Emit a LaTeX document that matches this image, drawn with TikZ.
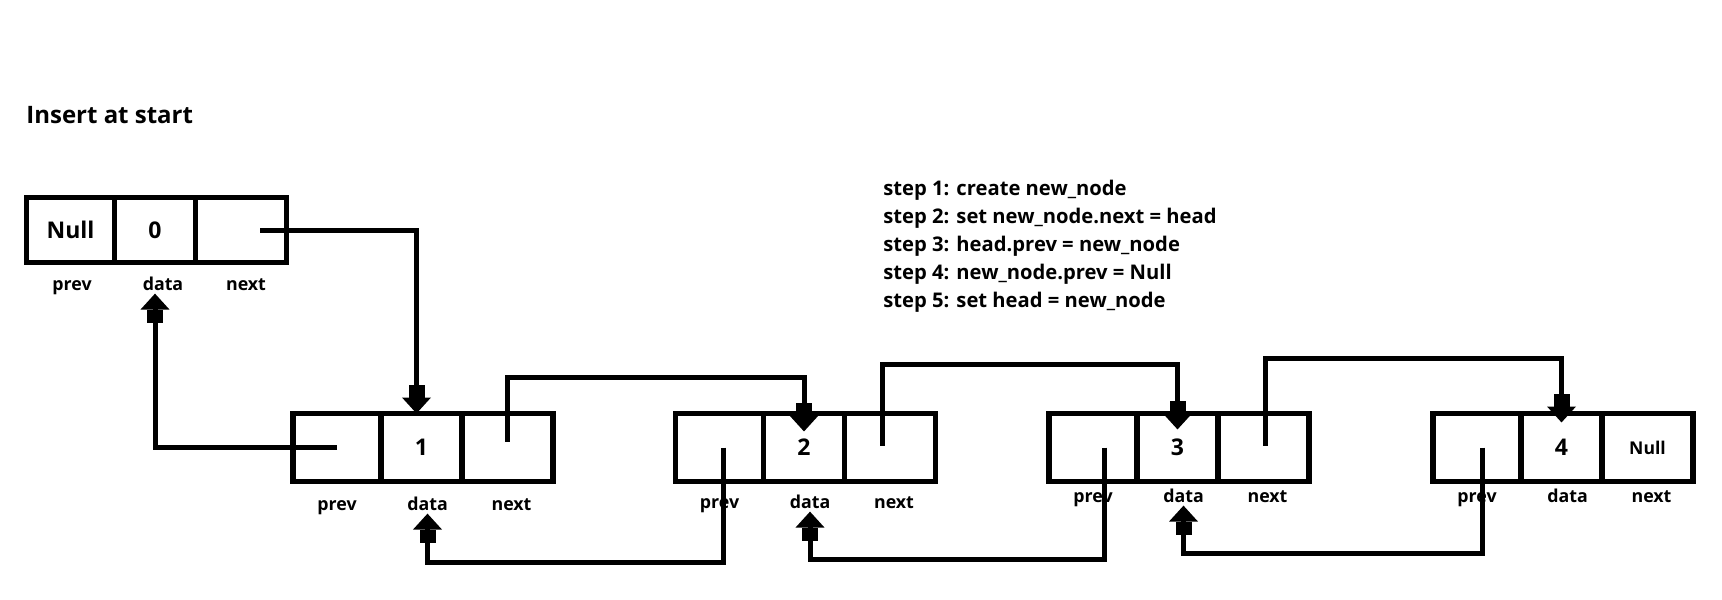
\documentclass[tikz,border=0pt]{standalone}
\usepackage{fontspec}
\setmainfont{Open Sans}
\usetikzlibrary{positioning,arrows.meta}
\begin{document}
\begin{tikzpicture}[x=0.5pt,y=-0.5pt,
    cell/.style={draw,line width=2.7pt,inner sep=0pt,outer sep=0pt,font=\bfseries\fontsize{11.5}{13}\selectfont},
    prevcell/.style={cell,minimum width=44pt},
    datacell/.style={cell,minimum width=40.5pt},
    nextcell/.style={cell,minimum width=45.5pt},
    lbl/.style={font=\bfseries\fontsize{8.9}{10}\selectfont,inner sep=1.5pt,anchor=base},
    link/.style={line width=2.5pt,-{Rectangle[width=8pt,length=6.5pt]Triangle[width=14pt,length=8pt]}}]
\useasboundingbox (0,0) rectangle (1722,599);
\node[anchor=base west,inner sep=0pt,font=\bfseries\fontsize{12}{14}\selectfont] (title) at (26,124) {Insert at start};
\foreach \t [count=\k] in {create new\_node, set new\_node.next = head, head.prev = new\_node, new\_node.prev = Null, set head = new\_node}
  \node[anchor=base west,inner sep=0pt,font=\bfseries\fontsize{10.1}{12}\selectfont] (step\k) at (883,167+28*\k) {step \k: \t};
\node[prevcell,minimum height=32.5pt,anchor=west] (prev0) at (26.5,230) {Null};
\node[datacell,minimum height=32.5pt,right=0pt of prev0] (data0) {0};
\node[nextcell,minimum height=32.5pt,right=0pt of data0] (next0) {};
\node[lbl] (plab0) at (72,290) {prev};
\node[lbl] (dlab0) at (163,290) {data};
\node[lbl] (nlab0) at (246,290) {next};
\foreach \i/\x/\v/\nx/\ly in {1/293/1//510,2/675.5/2//508,3/1049/3//502,4/1433/4/Null/502}{
  \node[prevcell,minimum height=34pt,anchor=west] (prev\i) at (\x,447.5) {};
  \node[datacell,minimum height=34pt,right=0pt of prev\i] (data\i) {\v};
  \node[nextcell,minimum height=34pt,right=0pt of data\i,font=\bfseries\fontsize{8.8}{10}\selectfont] (next\i) {\nx};
  \node[lbl] (plab\i) at (\x+44,\ly) {prev};
  \node[lbl] (dlab\i) at (\x+134.5,\ly) {data};
  \node[lbl] (nlab\i) at (\x+218.5,\ly) {next};
}
\draw[link] ([xshift=9.5pt]next0.center) -| ([xshift=-2.5pt]data1.north);
\draw[link] (prev1.center) -| (data0.center |- dlab0.south);
\draw[link] ([yshift=3pt]next1.center) -- ++(0,-64) -| ([yshift=-9pt]data2.north);
\draw[link] ([xshift=-4pt,yshift=1pt]next2.center) -- ++(0,-81) -| ([yshift=-8pt]data3.north);
\draw[link] ([xshift=1pt,yshift=1pt]next3.center) -- ++(0,-87) -| ([yshift=-4.5pt]data4.north);
\draw[link] ([xshift=2pt]prev2.center) -- ++(0,115) -| (dlab1.south);
\draw[link] ([xshift=5.8pt]prev3.center) -- ++(0,111.5) -| (dlab2.south);
\draw[link] ([xshift=2.8pt]prev4.center) -- ++(0,105.5) -| (dlab3.south);
\end{tikzpicture}
\end{document}
